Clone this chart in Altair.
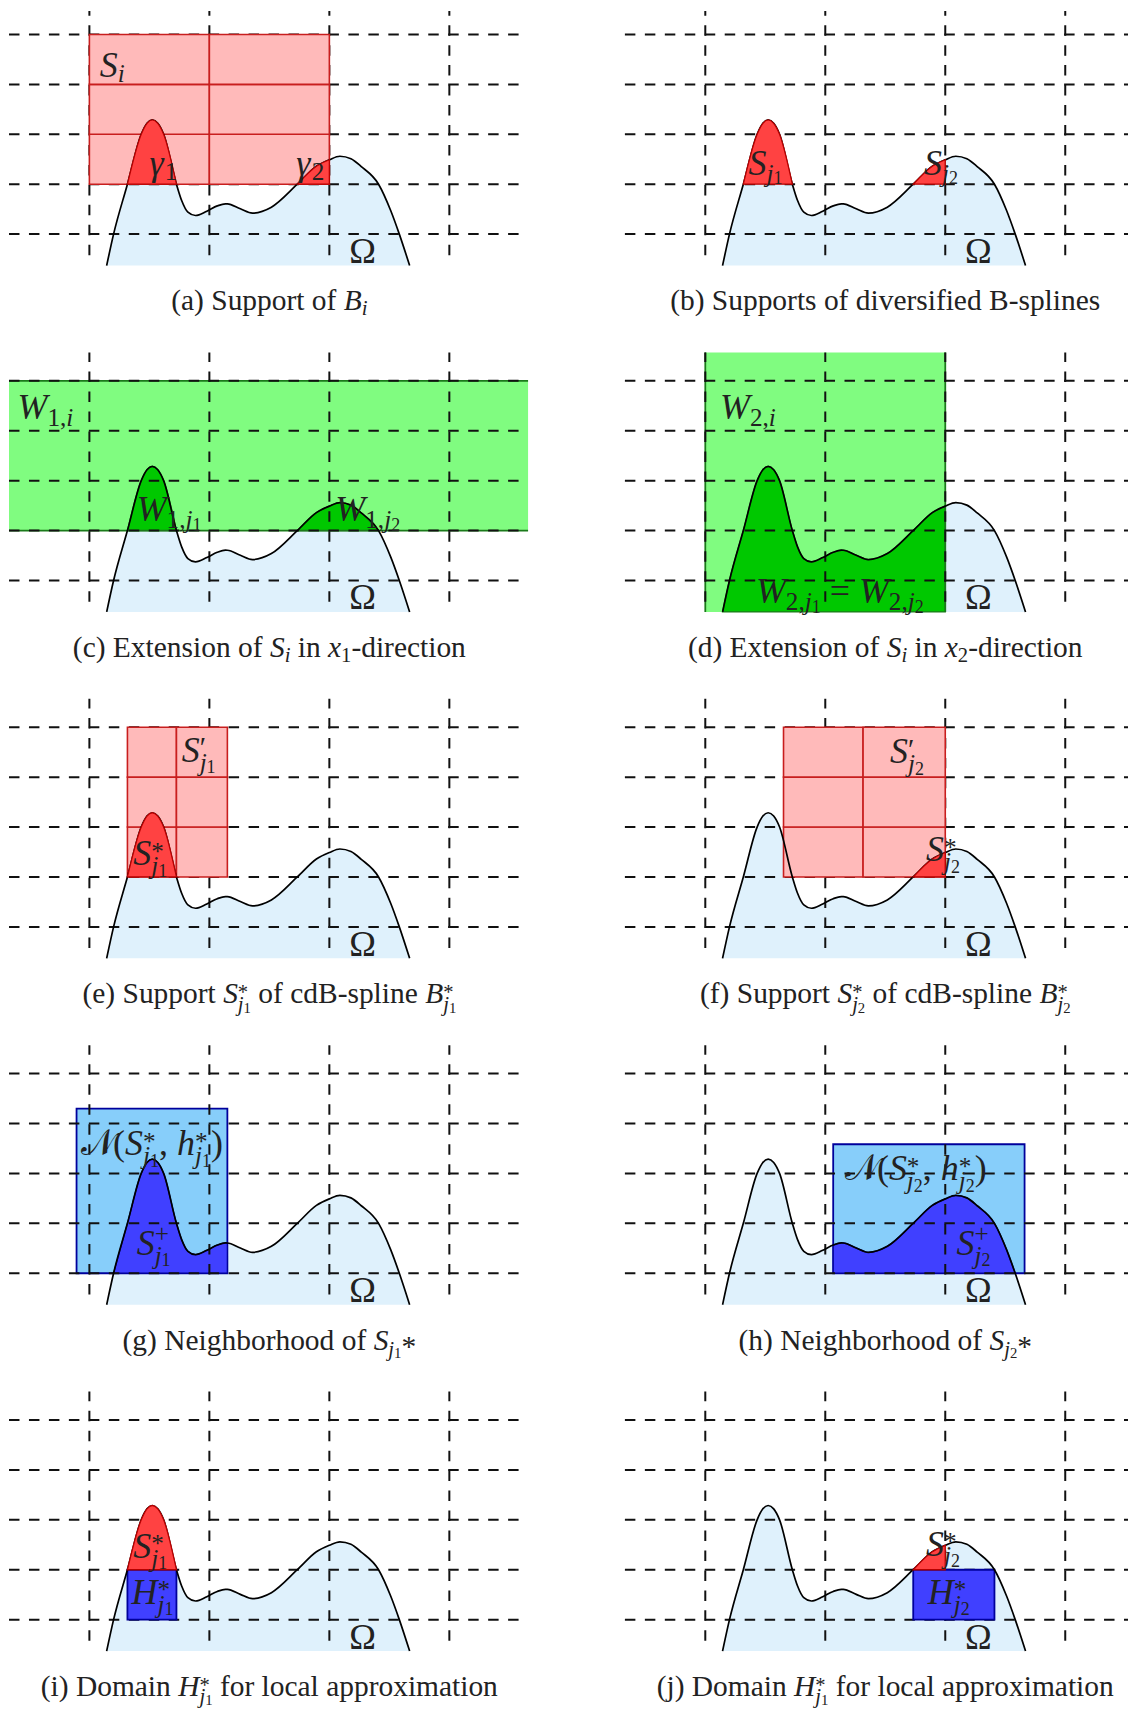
import altair as alt
import pandas as pd

# ---------------- values (grid units) ----------------
# boundary curve of the domain Omega (knots)
CURVE_X = [1.144, 1.2016, 1.317, 1.432, 1.48, 1.524, 1.57, 1.619, 1.7256, 1.769,
           1.821, 1.884, 1.979, 2.066, 2.134, 2.15, 2.258, 2.359, 2.517, 2.733,
           2.892, 3.0, 3.088, 3.18, 3.266, 3.41, 3.511, 3.583, 3.669]
CURVE_Y = [0.37, 1.0, 2.0, 3.0, 3.22, 3.287, 3.22, 3.0, 2.0, 1.673,
           1.44, 1.373, 1.46, 1.565, 1.607, 1.606, 1.507, 1.42, 1.54, 2.0,
           2.36, 2.49, 2.56, 2.51, 2.353, 2.0, 1.473, 1.0, 0.37]
OMEGA_BASE = 0.37

GRID_X = [1, 2, 3, 4]
GRID_Y = [1, 2, 3, 4, 5]
HDASH_SPAN = [0.33, 4.60]
VDASH_SPAN = [5.586, 0.573]

SI_CELLS_X = [1.0, 2.0, 3.0]
SI_CELLS_Y = [2.0, 3.0, 4.0, 5.0]
SJ1_CELLS_X = [1.317, 1.7256, 2.15]
SJ2_CELLS_X = [1.652, 2.315, 3.0]
SJ_CELLS_Y = [2.0, 3.0, 4.0, 5.0]

# pieces of Omega: [x_from, x_to, floor]
CUT_J1 = [1.317, 1.7256, 2.0]
CUT_J2 = [2.733, 3.0, 2.0]
CUT_W1J2 = [2.733, 3.41, 2.0]
CUT_W2 = [1.144, 3.0, OMEGA_BASE]
CUT_SPLUS1 = [1.2016, 2.15, 1.0]
CUT_SPLUS2 = [2.066, 3.583, 1.0]

# boxes: [x0, x1, y0, y1]
BAND_W1 = [0.30, 4.66, 2.0, 5.0]
BAND_W2 = [1.0, 3.0, 0.367, 5.573]
NBHD_J1 = [0.893, 2.15, 1.0, 4.3]
NBHD_J2 = [2.066, 3.661, 1.0, 3.585]
H_J1 = [1.317, 1.7256, 1.0, 2.0]
H_J2 = [2.733, 3.41, 1.0, 2.0]

# ---------------- layout / style ----------------
PX_X = 120.2
PX_Y = 50.0
XMIN = 0.33
WIDTHS = [520, 504]
YMIN = -0.74
YMAX_ROWS = [5.5, 5.6, 5.6, 5.6, 5.6]
ROW_PITCH = 347
COL_GAP = 97
FONT = "Liberation Serif"
TXT = "#222222"
FS_LAB = 36
FS_CAP = 29.5

OMEGA_FILL = "#dff1fc"
PINK, PINK_LINE = "#ffbaba", "#c81e1e"
RED, RED_LINE = "#ff4242", "#b80000"
LGREEN, GREEN_LINE, DGREEN = "#80fc80", "#1b7a1b", "#00c800"
LBLUE, BLUE_LINE, DBLUE = "#87cefa", "#00009c", "#4040ff"
DASH = "#111111"

# ---------------- text pieces ----------------
W_RM = {' ': 250, '(': 333, ')': 333, ',': 250, '-': 333, '*': 500, '+': 564, '=': 564,
        '1': 500, '2': 500, 'B': 667, 'D': 722, 'E': 611, 'N': 722, 'S': 556,
        'a': 444, 'b': 500, 'c': 444, 'd': 500, 'e': 444, 'f': 333, 'g': 500, 'h': 500,
        'i': 278, 'j': 278, 'k': 500, 'l': 278, 'm': 778, 'n': 500, 'o': 500, 'p': 500,
        'r': 333, 's': 389, 't': 278, 'u': 500, 'v': 500, 'x': 500, 'y': 500, 'Ω': 768,
        '𝒩': 900}
W_IT = {'B': 611, 'H': 722, 'S': 500, 'W': 833, 'N': 667, 'h': 500, 'i': 278, 'j': 278,
        'x': 444, 'γ': 430}


def P(t, sz=1.0, dy=0.0, itl=False, adv=True):
    return (t, sz, dy, itl, adv)


def J(d, drop=-0.2):
    return [P("j", 0.7, drop, True), P(d, 0.5, drop - 0.07)]


def width(t, itl):
    tab = W_IT if itl else W_RM
    return sum(tab.get(c, W_RM.get(c, 500)) for c in t) / 1000.0


def lay(pieces, fs, x0, y0, center=False):
    total = sum(width(t, itl) * fs * sz for t, sz, dy, itl, adv in pieces if adv)
    cur = -total / 2 if center else 0.0
    rows = []
    for t, sz, dy, itl, adv in pieces:
        lead = len(t) - len(t.lstrip(' '))
        shown = t.strip(' ')
        if shown:
            rows.append({"x": x0 + (cur + width(' ' * lead, itl) * fs * sz) / PX_X,
                         "y": y0 + dy * fs / PX_Y, "text": shown,
                         "size": fs * sz, "italic": itl})
        if adv:
            cur += width(t, itl) * fs * sz
    return rows


STAR = P("*", 0.7, 0.15, adv=False)
PLUS = P("+", 0.7, 0.36, adv=False)
PRIME = P("′", 0.8, 0.12, adv=False)
OMEGA_LAB = (3.165, 0.42, [P("Ω")])


def S_sub(d, sup=None):
    return [P("S", itl=True)] + ([sup] if sup else []) + J(d, -0.25 if sup else -0.2)


def W_sub(a, b):
    head = [P("W", itl=True), P(a, 0.7, -0.2), P(",", 0.7, -0.2)]
    if b == "i":
        return head + [P("i", 0.7, -0.2, True)]
    return head + J(b, -0.2)


def N_lab(d):
    return ([P("𝒩"), P("("), P("S", itl=True), STAR] + J(d, -0.25) + [P(", ")] +
            [P("h", itl=True), STAR] + J(d, -0.25) + [P(")")])


LABELS = {
    "a": [(1.086, 4.153, [P("S", itl=True), P("i", 0.7, -0.16, True)]),
          (1.50, 2.193, [P("γ", itl=True), P("1", 0.7, -0.16)]),
          (2.725, 2.193, [P("γ", itl=True), P("2", 0.7, -0.16)]), OMEGA_LAB],
    "b": [(1.36, 2.193, S_sub("1")), (2.823, 2.193, S_sub("2")), OMEGA_LAB],
    "c": [(0.401, 4.24, W_sub("1", "i")), (1.394, 2.187, W_sub("1", "1")),
          (3.05, 2.187, W_sub("1", "2")), OMEGA_LAB],
    "d": [(1.123, 4.24, W_sub("2", "i")),
          (1.422, 0.553, W_sub("2", "1") + [P(" = ")] + W_sub("2", "2")), OMEGA_LAB],
    "e": [(1.769, 4.31, S_sub("1", PRIME)), (1.366, 2.231, S_sub("1", STAR)), OMEGA_LAB],
    "f": [(2.54, 4.275, S_sub("2", PRIME)), (2.839, 2.31, S_sub("2", STAR)), OMEGA_LAB],
    "g": [(0.928, 3.365, N_lab("1")), (1.394, 1.372, S_sub("1", PLUS)), OMEGA_LAB],
    "h": [(2.161, 2.867, N_lab("2")), (3.094, 1.372, S_sub("2", PLUS)), OMEGA_LAB],
    "i": [(1.366, 2.238, S_sub("1", STAR)),
          (1.351, 1.32, [P("H", itl=True), STAR] + J("1", -0.25)), OMEGA_LAB],
    "j": [(2.839, 2.285, S_sub("2", STAR)),
          (2.854, 1.32, [P("H", itl=True), STAR] + J("2", -0.25)), OMEGA_LAB],
}

CAPTIONS = {
    "a": [P("(a) Support of "), P("B", itl=True), P("i", 0.7, -0.16, True)],
    "b": [P("(b) Supports of diversified B-splines")],
    "c": [P("(c) Extension of "), P("S", itl=True), P("i", 0.7, -0.16, True),
          P(" in "), P("x", itl=True), P("1", 0.7, -0.16), P("-direction")],
    "d": [P("(d) Extension of "), P("S", itl=True), P("i", 0.7, -0.16, True),
          P(" in "), P("x", itl=True), P("2", 0.7, -0.16), P("-direction")],
    "e": [P("(e) Support ")] + S_sub("1", STAR) + [P(" of cdB-spline "), P("B", itl=True), STAR] + J("1", -0.25),
    "f": [P("(f) Support ")] + S_sub("2", STAR) + [P(" of cdB-spline "), P("B", itl=True), STAR] + J("2", -0.25),
    "g": [P("(g) Neighborhood of ")] + S_sub("1") + [P("*", 1.0, -0.22)],
    "h": [P("(h) Neighborhood of ")] + S_sub("2") + [P("*", 1.0, -0.22)],
    "i": [P("(i) Domain "), P("H", itl=True), STAR] + J("1", -0.25) + [P(" for local approximation")],
    "j": [P("(j) Domain "), P("H", itl=True), STAR] + J("1", -0.25) + [P(" for local approximation")],
}
CAP_X, CAP_Y = 2.5, -0.53

PANELS = {
    "a": dict(col=0, cells=(SI_CELLS_X, SI_CELLS_Y), red=[CUT_J1, CUT_J2]),
    "b": dict(col=1, red=[CUT_J1, CUT_J2]),
    "c": dict(col=0, band=(BAND_W1, "h"), green=[CUT_J1, CUT_W1J2]),
    "d": dict(col=1, band=(BAND_W2, "v"), green=[CUT_W2]),
    "e": dict(col=0, cells=(SJ1_CELLS_X, SJ_CELLS_Y), red=[CUT_J1]),
    "f": dict(col=1, cells=(SJ2_CELLS_X, SJ_CELLS_Y), red=[CUT_J2]),
    "g": dict(col=0, nbhd=NBHD_J1, blue=[CUT_SPLUS1]),
    "h": dict(col=1, nbhd=NBHD_J2, blue=[CUT_SPLUS2]),
    "i": dict(col=0, red=[CUT_J1], hbox=H_J1),
    "j": dict(col=1, red=[CUT_J2], hbox=H_J2),
}

# ---------------- tables ----------------
curve_df = pd.DataFrame({"x": CURVE_X, "y": CURVE_Y, "base": OMEGA_BASE})


def cut_df(c):
    x0, x1, floor = c
    pts = [(x, y) for x, y in zip(CURVE_X, CURVE_Y) if x0 - 1e-9 <= x <= x1 + 1e-9]
    return pd.DataFrame({"x": [p[0] for p in pts], "y": [p[1] for p in pts], "floor": floor})


def cells_df(xe, ye):
    return pd.DataFrame([{"x": xe[i], "x2": xe[i + 1], "y": ye[j], "y2": ye[j + 1]}
                         for i in range(len(xe) - 1) for j in range(len(ye) - 1)])


def box_df(b):
    return pd.DataFrame([{"x": b[0], "x2": b[1], "y": b[2], "y2": b[3]}])


def make_panel(key, row):
    spec = PANELS[key]
    w = WIDTHS[spec["col"]]
    xmax = XMIN + w / PX_X
    ymax = YMAX_ROWS[row]
    h = int(round((ymax - YMIN) * PX_Y))
    xs = alt.Scale(domain=[XMIN, xmax], nice=False, zero=False)
    ys = alt.Scale(domain=[YMIN, ymax], nice=False, zero=False)

    def X(f):
        return alt.X(f + ":Q", scale=xs, axis=None)

    def Y(f):
        return alt.Y(f + ":Q", scale=ys, axis=None)

    def clampx(v):
        return min(max(v, XMIN), xmax)

    def clampy(v):
        return min(max(v, YMIN), ymax - 0.03)

    def area(df, fill, line, sw=1.3):
        return alt.Chart(df).mark_area(interpolate="monotone", fill=fill, stroke=line,
                                       strokeWidth=sw).encode(x=X("x"), y=Y("y"), y2=alt.Y2("floor"))

    def rect(df, fill, line, sw=1.6):
        m = alt.Chart(df).mark_rect(fill=fill, stroke=line, strokeWidth=sw) if line else \
            alt.Chart(df).mark_rect(fill=fill)
        return m.encode(x=X("x"), x2=alt.X2("x2"), y=Y("y"), y2=alt.Y2("y2"))

    layers = [alt.Chart(curve_df).mark_area(interpolate="monotone", color=OMEGA_FILL)
              .encode(x=X("x"), y=Y("y"), y2=alt.Y2("base"))]

    # under the dashed grid
    if "band" in spec:
        b, kind = spec["band"]
        bb = [clampx(b[0]), clampx(b[1]), clampy(b[2]), clampy(b[3])]
        layers.append(rect(box_df(bb), LGREEN, None))
        for c in spec.get("green", []):
            layers.append(area(cut_df(c), DGREEN, GREEN_LINE))
        if kind == "h":
            edges = pd.DataFrame({"x": [bb[0], bb[0]], "x2": [bb[1], bb[1]],
                                  "y": [bb[2], bb[3]], "y2": [bb[2], bb[3]]})
        else:
            edges = pd.DataFrame({"x": [bb[0], bb[1]], "x2": [bb[0], bb[1]],
                                  "y": [bb[2], bb[2]], "y2": [bb[3], bb[3]]})
        layers.append(alt.Chart(edges).mark_rule(color=GREEN_LINE, strokeWidth=1.8)
                      .encode(x=X("x"), x2=alt.X2("x2"), y=Y("y"), y2=alt.Y2("y2")))
    if "nbhd" in spec:
        layers.append(rect(box_df(spec["nbhd"]), LBLUE, BLUE_LINE, 1.8))
        for c in spec.get("blue", []):
            layers.append(area(cut_df(c), DBLUE, BLUE_LINE))

    # dashed grid
    hdash_df = pd.DataFrame({"y": GRID_Y, "x": clampx(HDASH_SPAN[0]), "x2": clampx(HDASH_SPAN[1])})
    vtop = clampy(VDASH_SPAN[0])
    vdash_df = pd.DataFrame({"x": GRID_X, "y": vtop, "y2": VDASH_SPAN[1]})
    layers.append(alt.Chart(hdash_df).mark_rule(color=DASH, strokeWidth=2.0, strokeDash=[10.5, 9.5])
                  .encode(x=X("x"), x2=alt.X2("x2"), y=Y("y")))
    layers.append(alt.Chart(vdash_df).mark_rule(color=DASH, strokeWidth=2.0, strokeDash=[10.5, 9.5],
                                                strokeDashOffset=(VDASH_SPAN[0] - vtop) * PX_Y)
                  .encode(x=X("x"), y=Y("y"), y2=alt.Y2("y2")))

    # over the dashed grid
    if "cells" in spec:
        layers.append(rect(cells_df(*spec["cells"]), PINK, PINK_LINE, 1.6))
    if "hbox" in spec:
        layers.append(rect(box_df(spec["hbox"]), DBLUE, BLUE_LINE, 1.8))

    layers.append(alt.Chart(curve_df).mark_line(interpolate="monotone", color="black", strokeWidth=1.7)
                  .encode(x=X("x"), y=Y("y")))
    for c in spec.get("red", []):
        layers.append(area(cut_df(c), RED, RED_LINE))

    # text
    rows = []
    for x0, y0, pieces in LABELS[key]:
        rows += lay(pieces, FS_LAB, x0, y0)
    rows += lay(CAPTIONS[key], FS_CAP, CAP_X, CAP_Y, center=True)
    tdf = pd.DataFrame(rows)
    for itl in (False, True):
        sub = tdf[tdf["italic"] == itl]
        if len(sub):
            layers.append(alt.Chart(sub).mark_text(font=FONT, fontStyle="italic" if itl else "normal",
                                                   align="left", baseline="alphabetic", color=TXT)
                          .encode(x=X("x"), y=Y("y"), text="text:N", size=alt.Size("size:Q", scale=None)))

    return alt.layer(*layers).properties(width=w, height=h)


panels = []
for r, (lk, rk) in enumerate([("a", "b"), ("c", "d"), ("e", "f"), ("g", "h"), ("i", "j")]):
    panels += [make_panel(lk, r), make_panel(rk, r)]

# spacing so that successive y=5 grid lines are ROW_PITCH apart
row_gap = ROW_PITCH - int(round((5 - YMIN) * PX_Y)) - int(round((YMAX_ROWS[1] - 5) * PX_Y))

chart = alt.concat(*panels, columns=2, spacing={"row": row_gap, "column": COL_GAP},
                   bounds="flush").properties(
    padding={"left": 0, "top": 0, "right": 0, "bottom": 0}).configure_view(stroke=None)

chart.save("out.html", embed_options={"renderer": "svg", "actions": False})
